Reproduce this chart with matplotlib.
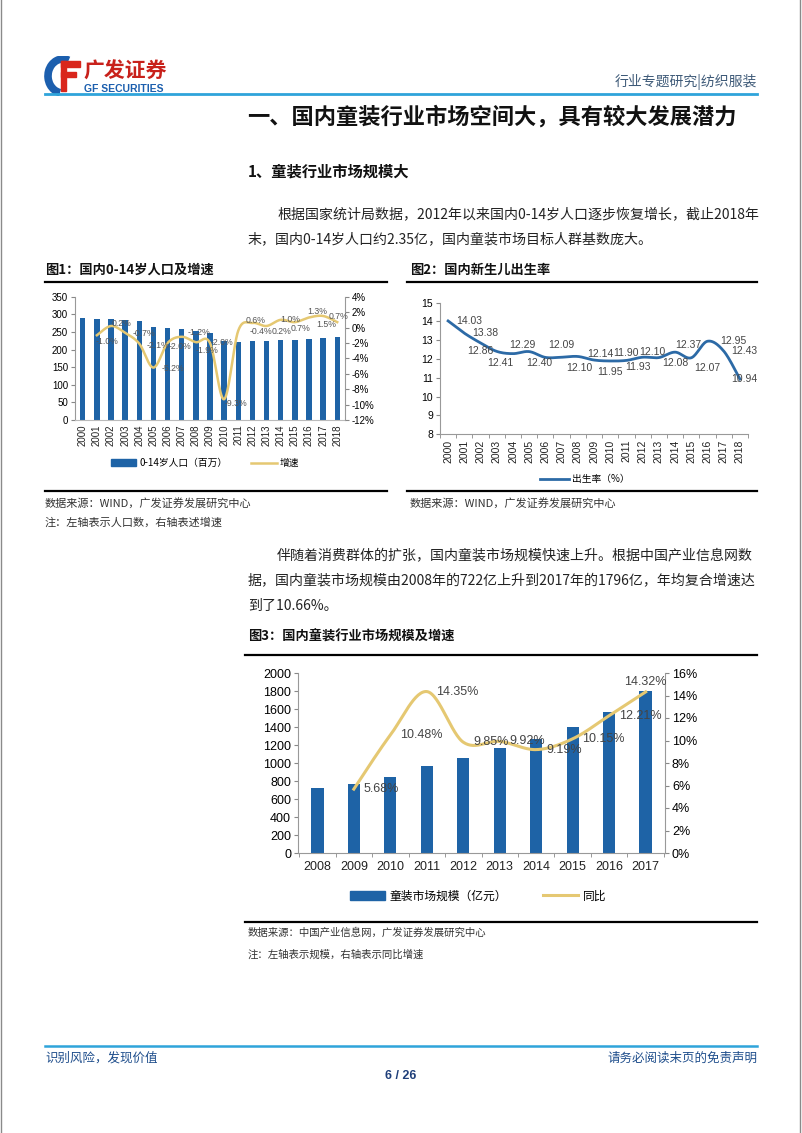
import matplotlib
matplotlib.use('Agg')
import matplotlib.pyplot as plt
import numpy as np
from matplotlib.lines import Line2D
from matplotlib.patches import Patch, Rectangle, Arc

W, H = 802, 1133
plt.rcParams['font.family'] = ['Noto Sans CJK SC', 'DejaVu Sans']
NUM = ['Liberation Sans', 'Noto Sans CJK SC', 'DejaVu Sans']

# ---------------- data ----------------
years1 = [str(y) for y in range(2000, 2019)]
pop1 = [290, 286, 286, 284, 280, 265, 260, 257, 253, 247, 223, 222, 223, 223, 226, 227, 230, 233, 235]
growth1 = [np.nan, -1.0, 0.2, -0.7, -2.1, -5.2, -2.0, -1.2, -1.9, -2.0, -9.3, -0.4, 0.6, 0.2, 1.0, 0.7, 1.3, 1.5, 0.7]

years2 = [str(y) for y in range(2000, 2019)]
birth2 = [14.03, 13.38, 12.86, 12.41, 12.29, 12.40, 12.09, 12.10, 12.14, 11.95, 11.90, 11.93, 12.10, 12.08, 12.37, 12.07, 12.95, 12.43, 10.94]

years3 = [str(y) for y in range(2008, 2018)]
size3 = [722, 763, 843, 964, 1059, 1164, 1271, 1400, 1571, 1796]
yoy3 = [np.nan, 5.68, 10.48, 14.35, 9.85, 9.92, 9.19, 10.15, 12.21, 14.32]

# label placement (layout only)
off1 = [None, (0.74, -0.8), (0.77, 0.3), (1.3, -0.1), (1.3, -0.2), (1.4, -0.1), (0.9, -0.5), (1.2, 0.6),
        (0.8, -1.1), (0.85, 0.1), (0.8, -0.5), (1.6, -0.1), (0.2, 0.3), (1.05, -0.7), (0.7, 0.1),
        (0.4, -0.8), (0.6, 0.75), (0.2, -1.15), (0.1, 0.76)]
off2 = [(1.3, 0), (1.3, 0), (0, -0.43), (0.2, -0.6), (0.6, 0.45), (0.6, -0.6), (1.0, 0.65), (1.1, -0.6),
        (1.4, 0.15), (1.0, -0.65), (1.0, 0.4), (0.7, -0.35), (0.6, 0.3), (1.0, -0.3), (0.8, 0.4),
        (1.0, -0.55), (1.6, 0.0), (1.3, 0.0), (0.3, 0.0)]

BLUE = '#1E63A6'
GOLD = '#E5C872'
LINE2 = '#2C6AA6'


def smooth(xs, ys, n=30):
    P = np.column_stack([xs, ys]).astype(float)
    out = []
    for i in range(len(P) - 1):
        p0 = P[i - 1] if i > 0 else P[i]
        p1 = P[i]
        p2 = P[i + 1]
        p3 = P[i + 2] if i + 2 < len(P) else P[i + 1]
        c1 = p1 + (p2 - p0) / 6.0
        c2 = p2 - (p3 - p1) / 6.0
        t = np.linspace(0, 1, n, endpoint=False)[:, None]
        b = ((1 - t) ** 3) * p1 + 3 * ((1 - t) ** 2) * t * c1 + 3 * (1 - t) * t ** 2 * c2 + t ** 3 * p2
        out.append(b)
    out.append(P[-1][None, :])
    B = np.vstack(out)
    return B[:, 0], B[:, 1]


fig = plt.figure(figsize=(W / 100, H / 100), dpi=100)
fig.patch.set_facecolor('white')


def fx(x):
    return x / W


def fy(y):
    return 1 - y / H


def T(x, y, s, size, ha='left', va='center', weight='normal', color='#222222', family=None):
    kw = {}
    if family is not None:
        kw['family'] = family
    fig.text(fx(x), fy(y), s, fontsize=size, ha=ha, va=va, weight=weight, color=color, **kw)


def HL(x0, x1, y, lw=1.0, color='black'):
    fig.add_artist(Line2D([fx(x0), fx(x1)], [fy(y), fy(y)], transform=fig.transFigure, lw=lw, color=color))


def AX(l, t, r, b):
    return fig.add_axes([fx(l), fy(b), (r - l) / W, (b - t) / H])


# page border
fig.add_artist(Line2D([fx(1), fx(1)], [0, 1], transform=fig.transFigure, lw=1, color='#8a8a8a'))
fig.add_artist(Line2D([fx(800), fx(800)], [0, 1], transform=fig.transFigure, lw=1, color='#8a8a8a'))

# ---------------- header ----------------
lax = AX(44, 56, 82, 96)
lax.set_xlim(0, 38)
lax.set_ylim(40, 0)
lax.axis('off')
lax.add_patch(Arc((19, 20), 30, 34, theta1=100, theta2=290, lw=5.5, color='#1C5FAE'))
lax.add_patch(Rectangle((17, 5), 19, 5.5, color='#D9261C'))
lax.add_patch(Rectangle((17, 5), 5.5, 30, color='#D9261C'))
lax.add_patch(Rectangle((17, 16), 15, 5, color='#D9261C'))
T(83, 71, '广发证券', 15, weight='bold', color='#C8211B')
T(84, 89, 'GF SECURITIES', 7.5, weight='bold', color='#1C5FAE', family=NUM)
T(757, 82, '行业专题研究|纺织服装', 10, ha='right', color='#3E5A78')
HL(45, 757, 94, lw=2.0, color='#2FA4DA')

T(247, 117, '一、国内童装行业市场空间大，具有较大发展潜力', 16.0, weight='bold', color='#111111')
T(248, 172, '1、童装行业市场规模大', 11, weight='bold', color='#111111')
T(277, 214, '根据国家统计局数据，2012年以来国内0-14岁人口逐步恢复增长，截止2018年', 10.05)
T(248, 239, '末，国内0-14岁人口约2.35亿，国内童装市场目标人群基数庞大。', 10.05)

# ---------------- chart 1 ----------------
T(45, 270, '图1：国内0-14岁人口及增速', 9.5, weight='bold', color='#111111')
HL(45, 387, 282, lw=1.6)
HL(45, 387, 491, lw=1.6)
T(45, 503, '数据来源：WIND，广发证券发展研究中心', 8, color='#333333')
T(45, 523, '注：左轴表示人口数，右轴表述增速', 8, color='#333333')

ax1 = AX(75, 296.7, 345, 420)
x1 = np.arange(len(years1))
ax1.bar(x1, pop1, width=0.38, color=BLUE, zorder=2)
ax1.set_xlim(-0.55, len(years1) - 0.45)
ax1.set_ylim(0, 350)
ax1.set_yticks(np.arange(0, 351, 50))
ax1.set_xticks(x1)
ax1.set_xticklabels(years1, rotation=90, fontsize=7, family=NUM, color='#222222')
ax1.tick_params(axis='y', labelsize=7, length=3, color='#888888', pad=2)
ax1.tick_params(axis='x', length=0, pad=3)
for lab in ax1.get_yticklabels():
    lab.set_family(NUM)
for s in ['top', 'right']:
    ax1.spines[s].set_visible(False)
ax1.spines['left'].set_color('#999999')
ax1.spines['bottom'].set_color('#bbbbbb')
ax1b = ax1.twinx()
ax1b.set_ylim(-12, 4)
ax1b.set_yticks(np.arange(-12, 5, 2))
ax1b.set_yticklabels([f'{v}%' for v in range(-12, 5, 2)], family=NUM)
ax1b.tick_params(axis='y', labelsize=7, length=3, color='#888888', pad=2)
for s in ['top', 'left', 'bottom']:
    ax1b.spines[s].set_visible(False)
ax1b.spines['right'].set_color('#999999')
g = np.array(growth1, dtype=float)
m = ~np.isnan(g)
sx, sy = smooth(x1[m], g[m])
ax1b.plot(sx, sy, color=GOLD, lw=1.8, zorder=3)
for i, v in enumerate(growth1):
    if np.isnan(v):
        continue
    dx, dy = off1[i]
    ax1b.text(i + dx, v + dy, f'{v:.1f}%', fontsize=6.3, ha='center', va='center', color='#555555', family=NUM)
h1 = [Patch(color=BLUE), Line2D([0], [0], color=GOLD, lw=1.8)]
fig.legend(h1, ['0-14岁人口（百万）', '增速'], loc='center', bbox_to_anchor=(fx(205), fy(463)), ncol=2,
           frameon=False, fontsize=7, handlelength=2.6, handleheight=0.7, columnspacing=2.5, handletextpad=0.3)

# ---------------- chart 2 ----------------
T(410, 270, '图2：国内新生儿出生率', 9.5, weight='bold', color='#111111')
HL(407, 757, 282, lw=1.6)
HL(407, 757, 491, lw=1.6)
T(410, 503, '数据来源：WIND，广发证券发展研究中心', 8, color='#333333')

ax2 = AX(440, 302.7, 748, 434.3)
x2 = np.arange(len(years2))
sx, sy = smooth(x2, birth2)
ax2.plot(sx, sy, color=LINE2, lw=2.0, zorder=3)
ax2.set_xlim(-0.5, len(years2) - 0.5)
ax2.set_ylim(8, 15)
ax2.set_yticks(range(8, 16))
ax2.set_xticks(x2)
ax2.set_xticklabels(years2, rotation=90, fontsize=7.5, family=NUM, color='#222222')
ax2.set_xticks(np.arange(-0.5, len(years2), 1), minor=True)
ax2.tick_params(axis='x', which='major', length=0, pad=4)
ax2.tick_params(axis='x', which='minor', length=3, color='#888888')
ax2.tick_params(axis='y', labelsize=7.5, length=3, color='#888888', pad=2)
for lab in ax2.get_yticklabels():
    lab.set_family(NUM)
for s in ['top', 'right']:
    ax2.spines[s].set_visible(False)
ax2.spines['left'].set_color('#999999')
ax2.spines['bottom'].set_color('#999999')
for i, v in enumerate(birth2):
    dx, dy = off2[i]
    ax2.text(i + dx, v + dy, f'{v:.2f}', fontsize=7.5, ha='center', va='center', color='#444444', family=NUM)
fig.legend([Line2D([0], [0], color=LINE2, lw=2.0)], ['出生率（%）'], loc='center',
           bbox_to_anchor=(fx(585), fy(479)), frameon=False, fontsize=7, handlelength=3.0, handletextpad=0.3)

# ---------------- paragraph 2 ----------------
T(277, 556, '伴随着消费群体的扩张，国内童装市场规模快速上升。根据中国产业信息网数', 10.05)
T(248, 581, '据，国内童装市场规模由2008年的722亿上升到2017年的1796亿，年均复合增速达', 10.05)
T(248, 606, '到了10.66%。', 10.05)

# ---------------- chart 3 ----------------
T(248, 637, '图3：国内童装行业市场规模及增速', 9.5, weight='bold', color='#111111')
HL(245, 757, 655, lw=1.6)
HL(245, 757, 922, lw=1.6)
T(248, 933, '数据来源：中国产业信息网，广发证券发展研究中心', 7.5, color='#333333')
T(248, 955, '注：左轴表示规模，右轴表示同比增速', 7.5, color='#333333')

ax3 = AX(298, 673, 665, 853)
x3 = np.arange(len(years3))
ax3.bar(x3, size3, width=0.34, color=BLUE, zorder=2)
ax3.set_xlim(-0.53, len(years3) - 0.47)
ax3.set_ylim(0, 2000)
ax3.set_yticks(range(0, 2001, 200))
ax3.set_xticks(x3)
ax3.set_xticklabels(years3, fontsize=9, family=NUM, color='#222222')
ax3.set_xticks(np.arange(-0.5, len(years3), 1), minor=True)
ax3.tick_params(axis='x', which='major', length=0, pad=6)
ax3.tick_params(axis='x', which='minor', length=3, color='#888888')
ax3.tick_params(axis='y', labelsize=9, length=3, color='#888888', pad=2)
for lab in ax3.get_yticklabels():
    lab.set_family(NUM)
for s in ['top', 'right']:
    ax3.spines[s].set_visible(False)
ax3.spines['left'].set_color('#999999')
ax3.spines['bottom'].set_color('#999999')
ax3b = ax3.twinx()
ax3b.set_ylim(0, 16)
ax3b.set_yticks(range(0, 17, 2))
ax3b.set_yticklabels([f'{v}%' for v in range(0, 17, 2)], family=NUM)
ax3b.tick_params(axis='y', labelsize=9, length=3, color='#888888', pad=2)
for s in ['top', 'left', 'bottom']:
    ax3b.spines[s].set_visible(False)
ax3b.spines['right'].set_color('#999999')
g3 = np.array(yoy3, dtype=float)
m3 = ~np.isnan(g3)
sx, sy = smooth(x3[m3], g3[m3])
ax3b.plot(sx, sy, color=GOLD, lw=2.2, zorder=3)
for i, v in enumerate(yoy3):
    if np.isnan(v):
        continue
    if i == len(yoy3) - 1:
        ax3b.annotate(f'{v:.2f}%', (i, v), xytext=(0, 7), textcoords='offset points', ha='center', va='center',
                      fontsize=9, color='#444444', family=NUM)
    else:
        ax3b.annotate(f'{v:.2f}%', (i, v), xytext=(7, 0), textcoords='offset points', ha='left', va='center',
                      fontsize=9, color='#444444', family=NUM)
h3 = [Patch(color=BLUE), Line2D([0], [0], color=GOLD, lw=2.2)]
fig.legend(h3, ['童装市场规模（亿元）', '同比'], loc='center', bbox_to_anchor=(fx(478), fy(896)), ncol=2,
           frameon=False, fontsize=8.5, handlelength=3.0, handleheight=0.7, columnspacing=3.0, handletextpad=0.4)

# ---------------- footer ----------------
HL(45, 757, 1046, lw=1.8, color='#2FA4DA')
T(45, 1058, '识别风险，发现价值', 9, color='#1F4E8C')
T(757, 1058, '请务必阅读末页的免责声明', 9, ha='right', color='#1F4E8C')
T(401, 1076, '6 / 26', 9, ha='center', weight='bold', color='#1F3F7A', family=NUM)

fig.savefig('out.png', dpi=100)
